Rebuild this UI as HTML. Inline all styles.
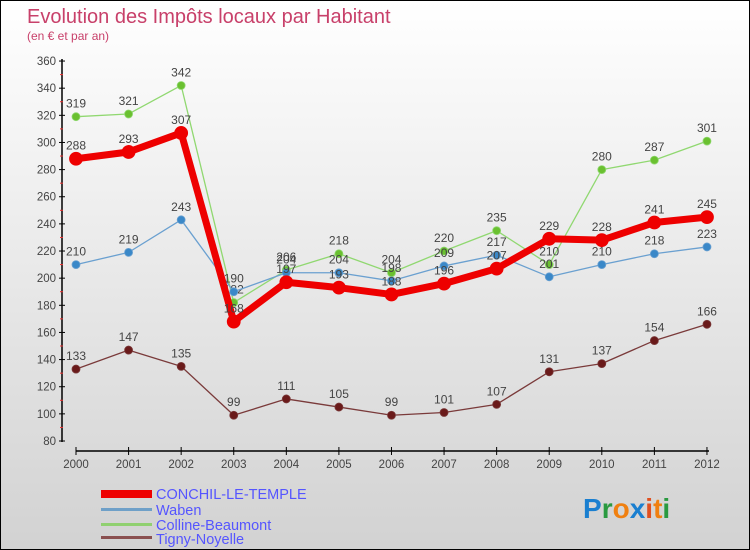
<!DOCTYPE html>
<html><head><meta charset="utf-8">
<style>
body{margin:0;width:750px;height:550px;overflow:hidden;font-family:"Liberation Sans",sans-serif}
#wrap{position:relative;width:748px;height:548px;border:1px solid #000;background:linear-gradient(#fff,#d2d2d2)}
svg{position:absolute;left:0;top:0}
</style></head><body>
<div id="wrap">
<svg id="chart" width="748" height="548">
<text x="26" y="22" font-size="20" fill="#c8406a">Evolution des Impôts locaux par Habitant</text>
<text x="26" y="39" font-size="12" fill="#c8406a">(en € et par an)</text>
<g id="axes"></g><g id="series"></g>
<g>
<rect x="100" y="489" width="51" height="8" fill="#e00"/>
<text x="155" y="498" font-size="14.5" fill="#55f">CONCHIL-LE-TEMPLE</text>
<rect x="100" y="507" width="51" height="3" fill="#6fa0c8"/>
<text x="155" y="514" font-size="14.5" fill="#55f">Waben</text>
<rect x="100" y="522" width="51" height="3" fill="#90d070"/>
<text x="155" y="529" font-size="14.5" fill="#55f">Colline-Beaumont</text>
<rect x="100" y="535" width="51" height="3" fill="#8a5050"/>
<text x="155" y="543" font-size="14.5" fill="#55f">Tigny-Noyelle</text>
</g>
<text x="582" y="517" font-size="28" font-weight="bold"><tspan fill="#1a7fd0">P</tspan><tspan fill="#2a9a40">r</tspan><tspan fill="#f08010">o</tspan><tspan fill="#1a7fd0">x</tspan><tspan fill="#e05020">i</tspan><tspan fill="#f08010">t</tspan><tspan fill="#2a9a40">i</tspan></text>
</svg></div>
<script>
const years=[2000,2001,2002,2003,2004,2005,2006,2007,2008,2009,2010,2011,2012];
const yTicks=[80,100,120,140,160,180,200,220,240,260,280,300,320,340,360];
const conchil=[288,293,307,168,197,193,188,196,207,229,228,241,245];
const waben=[210,219,243,190,204,204,198,209,217,201,210,218,223];
const colline=[319,321,342,182,206,218,204,220,235,210,280,287,301];
const tigny=[133,147,135,99,111,105,99,101,107,131,137,154,166];
const NS="http://www.w3.org/2000/svg";
function X(i){return 75+i*52.58;}
function Y(v){return 440-(v-80)*1.357;}
function mk(tag,attrs,parent){const e=document.createElementNS(NS,tag);for(const k in attrs)e.setAttribute(k,attrs[k]);parent.appendChild(e);return e;}
const ax=document.getElementById('axes');
const ya=mk('line',{x1:61,y1:58,x2:61,y2:441,stroke:'#000','stroke-width':1.5},ax);


yTicks.forEach(v=>{
 mk('line',{x1:58,x2:64,y1:Y(v),y2:Y(v),stroke:'#000'},ax);
 if(v<360)mk('line',{x1:59,x2:62,y1:Y(v+10),y2:Y(v+10),stroke:'#e33'},ax);
 const t=mk('text',{x:55,y:Y(v)+4,'text-anchor':'end','font-size':11.5,fill:'#444'},ax);t.textContent=v;
 
 
});
const xa=mk('line',{x1:75,y1:450,x2:708,y2:450,stroke:'#000','stroke-width':1.5},ax);


years.forEach((yr,i)=>{
 mk('line',{x1:X(i),x2:X(i),y1:446,y2:454,stroke:'#000'},ax);
 const t=mk('text',{x:X(i),y:467,'text-anchor':'middle','font-size':11.5,fill:'#444'},ax);t.textContent=yr;
 
 
});
const sg=document.getElementById('series');
function draw(data,name,color,dot,w,r){
 const g=mk('g',{},sg);
 
 
 const p=mk('polyline',{points:data.map((v,i)=>X(i)+','+Y(v)).join(' '),fill:'none',stroke:color,'stroke-width':w,'stroke-linejoin':'round'},g);
 
 
 data.forEach((v,i)=>{
  const c=mk('circle',{cx:X(i),cy:Y(v),r:r,fill:dot,stroke:color,'stroke-width':0.8},g);
  
  
  const t=mk('text',{x:X(i),y:Y(v)-9,'text-anchor':'middle','font-size':12,fill:'#444'},g);t.textContent=v;
  
  
 });
}
draw(tigny,'tigny','#7a3a3a','#6a1a1a',1.3,4);
draw(colline,'colline','#90d870','#6ac030',1.3,4);
draw(waben,'waben','#6aa0d0','#3a88c8',1.3,4);
draw(conchil,'conchil','#e00','#e00',7,6.5);
</script>
</body></html>
